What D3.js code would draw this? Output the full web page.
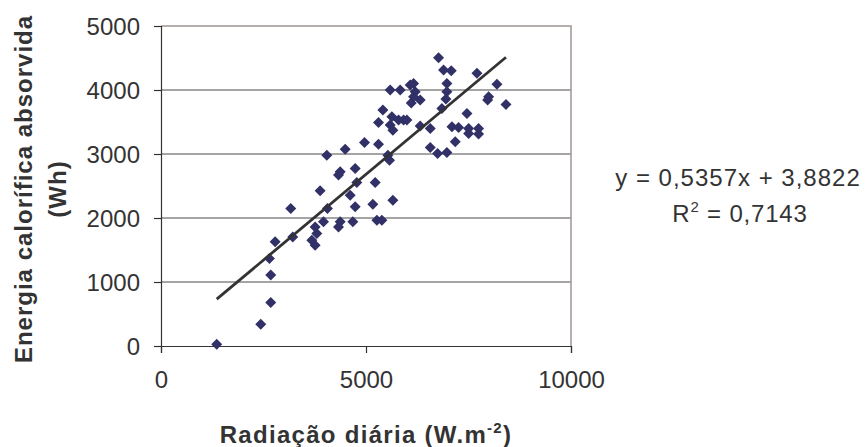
<!DOCTYPE html>
<html>
<head>
<meta charset="utf-8">
<script src="https://cdn.jsdelivr.net/npm/d3@7"></script>
<style>
  html, body { margin: 0; padding: 0; background: #fff; }
  svg { display: block; font-family: "Liberation Sans", Arial, sans-serif; }
</style>
</head>
<body>
<svg id="chart" width="866" height="447"></svg>
<script>
// Data
const radiacao = [1359,2433,2677,2677,2645,2783,3214,3165,3759,3678,3800,3759,3963,4060,3881,4044,
  4370,4329,4679,4736,4614,4776,4329,4370,4736,4492,4964,5224,5167,5265,5387,5655,5305,5533,5574,
  5305,5411,5590,5631,5590,5655,5794,5916,5997,5834,6078,6160,6200,6103,6322,6160,6322,6567,6567,
  6746,6973,7177,6770,6892,7079,6973,6973,6949,6851,7096,7258,7462,7503,7746,7503,7746,7706,7966,
  7991,8194,8414];
const energia = [26,339,678,1110,1366,1627,1705,2148,1575,1653,1757,1861,1940,2148,2425,2982,
  1940,1861,1940,2174,2357,2555,2670,2722,2774,3076,3181,2555,2216,1966,1966,2279,3154,2982,2904,
  3493,3686,4000,3582,3452,3373,3530,3530,3530,4000,4077,4103,3973,3796,3843,3895,3436,3400,3102,
  3009,3024,3191,4505,4312,4302,4103,3973,3858,3712,3426,3415,3634,3400,3400,3321,3311,4260,3843,
  3895,4088,3775];
const xTicks = [0, 5000, 10000];
const yTicks = [0, 1000, 2000, 3000, 4000, 5000];
const slope = 0.5357, intercept = 3.8822;
const eqLines = ["y = 0,5357x + 3,8822", "R2 = 0,7143"];

const svg = d3.select("#chart");
const pLeft = 161, pRight = 571, pTop = 26, pBottom = 346;

const x = d3.scaleLinear().domain([0, 10000]).range([pLeft, pRight]);
const y = d3.scaleLinear().domain([0, 5000]).range([pBottom, pTop]);

svg.append("rect").attr("width", 866).attr("height", 447).attr("fill", "#fff");

// gridlines
svg.append("g").selectAll("line").data(yTicks.filter(d => d > 0 && d < 5000)).join("line")
  .attr("x1", pLeft).attr("x2", pRight).attr("y1", d => y(d)).attr("y2", d => y(d))
  .attr("stroke", "#4a4a4a").attr("stroke-width", 1);

// plot border (top, right)
svg.append("path")
  .attr("d", `M${pLeft},${pTop}H${pRight}V${pBottom}`)
  .attr("fill", "none").attr("stroke", "#9e9592").attr("stroke-width", 1.5);

// axes
const yAxis = d3.axisLeft(y).tickValues(yTicks).tickSize(7).tickPadding(14).tickFormat(d3.format("d"));
const gy = svg.append("g").attr("transform", `translate(${pLeft},0)`).call(yAxis);
const xAxis = d3.axisBottom(x).tickValues(xTicks).tickSize(7).tickPadding(18).tickFormat(d3.format("d"));
const gx = svg.append("g").attr("transform", `translate(0,${pBottom})`).call(xAxis);
[gx, gy].forEach(g => {
  g.select(".domain").attr("stroke", "#333").attr("stroke-width", 1.2);
  g.selectAll(".tick line").attr("stroke", "#333").attr("stroke-width", 1.2);
  g.selectAll(".tick text").attr("fill", "#333").style("font-size", "24px")
    .style("font-family", '"Liberation Sans", Arial, sans-serif');
});
gy.selectAll(".tick text").attr("dy", "0.36em");

// points
const pts = radiacao.map((v, i) => [v, energia[i]]);
svg.append("g").selectAll("path").data(pts).join("path")
  .attr("transform", d => `translate(${x(d[0])},${y(d[1])})`)
  .attr("d", "M0,-5.5L5.5,0L0,5.5L-5.5,0Z")
  .attr("fill", "#313168");

// trend line
const xMin = d3.min(radiacao), xMax = d3.max(radiacao);
const line = d3.line().x(d => x(d)).y(d => y(slope * d + intercept));
svg.append("path").datum([xMin, xMax]).attr("d", line)
  .attr("fill", "none").attr("stroke", "#333").attr("stroke-width", 2.8);

// axis titles
svg.append("text")
  .attr("x", 366).attr("y", 443).attr("text-anchor", "middle")
  .attr("fill", "#333").style("font-size", "24px").style("font-weight", "bold")
  .style("letter-spacing", "1.3px")
  .call(t => {
    t.append("tspan").text("Radiação diária (W.m");
    t.append("tspan").attr("dy", -10).style("font-size", "15px").text("-2");
    t.append("tspan").attr("dy", 10).text(")");
  });

const yt = svg.append("text")
  .attr("transform", "translate(32,189) rotate(-90)")
  .attr("text-anchor", "middle")
  .attr("fill", "#333").style("font-size", "24px").style("font-weight", "bold")
  .style("letter-spacing", "1px");
yt.append("tspan").attr("x", 0).attr("y", 0).text("Energia calorífica absorvida");
yt.append("tspan").attr("x", 0).attr("y", 34).text("(Wh)");

// equation
svg.append("text").attr("x", 738).attr("y", 186).attr("text-anchor", "middle")
  .attr("fill", "#333").style("font-size", "24px").style("letter-spacing", "1px")
  .text(eqLines[0]);
const r2 = svg.append("text").attr("x", 740).attr("y", 222).attr("text-anchor", "middle")
  .attr("fill", "#333").style("font-size", "24px").style("letter-spacing", "0.8px");
r2.append("tspan").text("R");
r2.append("tspan").attr("dy", -10).style("font-size", "15px").text("2");
r2.append("tspan").attr("dy", 10).text(" = 0,7143");
</script>
</body>
</html>
